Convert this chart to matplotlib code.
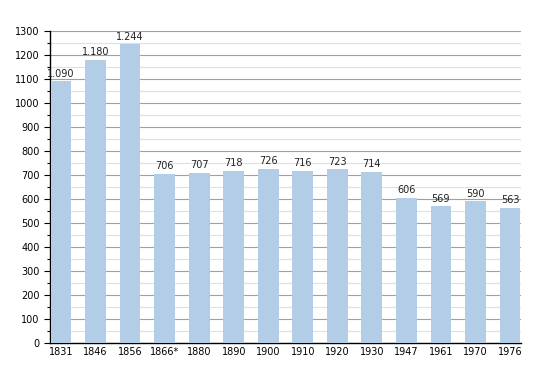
import numpy as np
import matplotlib
matplotlib.use('Agg')
import matplotlib.pyplot as plt
from matplotlib.ticker import MultipleLocator

# Dati della popolazione
anni = ['1831', '1846', '1856', '1866*', '1880', '1890', '1900', '1910',
        '1920', '1930', '1947', '1961', '1970', '1976']
abitanti = [1090, 1180, 1244, 706, 707, 718, 726, 716, 723, 714, 606, 569, 590, 563]

fig = plt.figure(figsize=(5.5, 3.73), dpi=100)
ax = fig.add_axes([50 / 550, 30 / 373, 471 / 550, 312 / 373])

x = np.arange(len(anni))
ax.bar(x, abitanti, width=0.6, color='#b3cde6', zorder=3)

for xi, v in zip(x, abitanti):
    etichetta = f'{v:,}'.replace(',', '.')
    ax.text(xi, v + 12, etichetta, ha='center', va='bottom', fontsize=7, color='#222222', zorder=4)

ax.set_xlim(-0.32, len(anni) - 0.68)
ax.set_ylim(0, 1300)
ax.set_xticks(x)
ax.set_xticklabels(anni, fontsize=7)
ax.yaxis.set_major_locator(MultipleLocator(100))
ax.yaxis.set_minor_locator(MultipleLocator(50))
ax.tick_params(axis='y', labelsize=7, length=4, width=0.8)
ax.tick_params(axis='y', which='minor', length=2.5, width=0.8)
ax.tick_params(axis='x', length=0, pad=3)

ax.grid(axis='y', which='major', color='#a0a0a0', linewidth=0.8, zorder=0)
ax.grid(axis='y', which='minor', color='#e0e0e0', linewidth=0.8, zorder=0)

for s in ['top', 'right']:
    ax.spines[s].set_visible(False)
ax.spines['left'].set_linewidth(1)
ax.spines['bottom'].set_linewidth(1)

plt.savefig('out.png', dpi=100)
